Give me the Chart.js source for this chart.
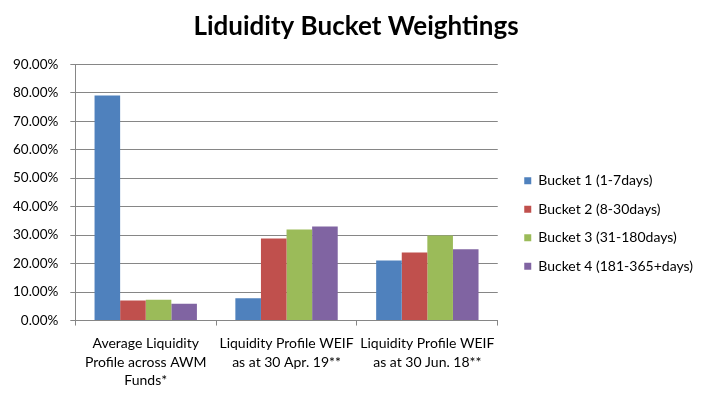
<!DOCTYPE html>
<html>
<head>
<meta charset="utf-8">
<script src="https://cdn.jsdelivr.net/npm/chart.js@4"></script>
<style>
  body { margin: 0; background: #fff; }
  #wrap { width: 715px; height: 395px; }
</style>
</head>
<body>
<div id="wrap"><canvas id="bucket-chart"></canvas></div>
<script>
// categories (multi-line x labels)
const categories = [
    ["Average Liquidity", "Profile across AWM", "Funds*"],
    ["Liquidity Profile WEIF", "as at 30 Apr. 19**"],
    ["Liquidity Profile WEIF", "as at 30 Jun. 18**"]
];

// series names + values (percent)
const seriesNames = ["Bucket 1 (1-7days)", "Bucket 2 (8-30days)", "Bucket 3 (31-180days)", "Bucket 4 (181-365+days)"];
const bucket1 = [79, 7.8, 21.1];
const bucket2 = [7, 28.8, 23.9];
const bucket3 = [7.3, 32, 29.9];
const bucket4 = [5.9, 33, 25];

const colors = ['#4F81BD', '#C0504D', '#9BBB59', '#8064A2'];
const fontFam = "Lato, 'Open Sans', sans-serif";

const canvas = document.getElementById("bucket-chart");

const chartData = {
    labels: categories,
    datasets: [bucket1, bucket2, bucket3, bucket4].map((vals, i) => ({
        label: seriesNames[i],
        data: vals,
        backgroundColor: colors[i],
        borderWidth: 0,
        barPercentage: 1,
        categoryPercentage: 0.727
    }))
};

// nudge legend (right/down) and title like the excel one
const layoutShift = {
    id: 'layoutShift',
    afterLayout(chart) {
        const lg = chart.legend;
        lg.left += 12; lg.right += 12;
        lg.top += 24; lg.bottom += 24;
        const t = chart.titleBlock;
        t.left += 10; t.right += 10;
    }
};

const chartOptions = {
    responsive: true,
    maintainAspectRatio: false,
    animation: false,
    layout: {
        padding: { left: 1, right: 24, top: 0, bottom: -4 }
    },
    scales: {
        x: {
            grid: {
                offset: true,
                drawOnChartArea: false,
                color: '#868686',
                tickLength: 5
            },
            border: { color: '#868686' },
            ticks: {
                color: '#000',
                font: { family: fontFam, size: 14, lineHeight: 1.32 },
                maxRotation: 0,
                autoSkip: false,
                padding: 9
            }
        },
        y: {
            min: 0,
            max: 90,
            grid: {
                color: '#868686',
                tickLength: 5
            },
            border: { color: '#868686' },
            ticks: {
                stepSize: 10,
                color: '#000',
                font: { family: fontFam, size: 13.5 },
                padding: 12,
                callback: v => v.toFixed(2) + '%'
            }
        }
    },
    plugins: {
        title: {
            display: true,
            text: "Liduidity Bucket Weightings",
            color: '#000',
            font: { family: fontFam, size: 26, weight: 'bold' },
            padding: { top: 11, bottom: 22 }
        },
        legend: {
            position: 'right',
            maxWidth: 260,
            labels: {
                boxWidth: 7,
                boxHeight: 7,
                padding: 14.5,
                color: '#000',
                font: { family: fontFam, size: 14 }
            }
        },
        tooltip: { enabled: false }
    }
};

const bucketChart = new Chart(canvas, {
    type: 'bar',
    data: chartData,
    options: chartOptions,
    plugins: [layoutShift]
});
</script>
</body>
</html>
